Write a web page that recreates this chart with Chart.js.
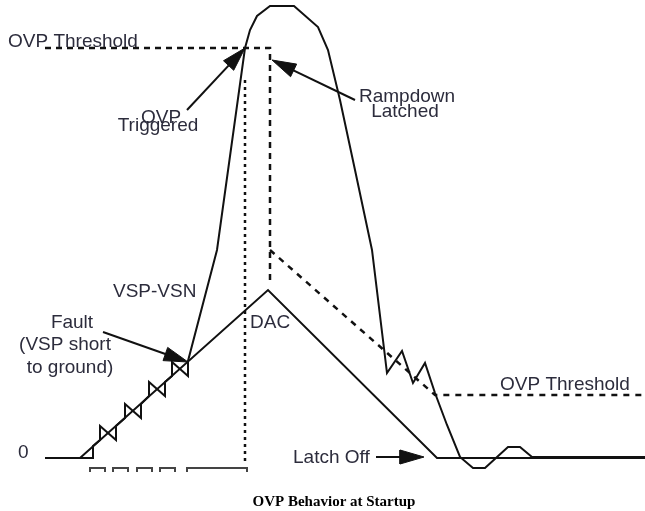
<!DOCTYPE html>
<html>
<head>
<meta charset="utf-8">
<script src="https://cdn.jsdelivr.net/npm/chart.js"></script>
<style>
  html, body { margin: 0; padding: 0; background: #fff; }
</style>
</head>
<body>
<canvas id="chart" width="645" height="511"></canvas>
<script>
// time (x) and voltage (y), arbitrary units
const dacT = [45, 80, 268, 437, 645];
const dacV = [0, 0, 168, 0, 0];

const vspT = [45, 80, 93, 93, 100, 100, 116, 116, 125, 125, 141, 141, 149, 149, 165, 165, 172, 172, 188, 188,
  217, 245, 250, 257, 270, 294, 318, 328, 340, 355, 372, 387, 402, 413, 425, 435, 447, 460, 473, 485, 508, 520, 532, 645];
const vspV = [0, 0, 0, 12, 18, 32, 18, 32, 40, 54, 40, 54, 62, 76, 62, 76, 82, 96, 82, 97,
  208, 410, 428, 442, 452, 452, 431, 408, 358, 288, 208, 85, 107, 75, 95, 65, 33, 1, -10, -10, 11, 11, 1, 1];

const ovpT = [45, 270, 270];
const ovpV = [410, 410, 173];
const rampT = [270, 435, 645];
const rampV = [208, 63, 63];
const markT = [245, 245];
const markV = [378, -7];

const pulseStart = [90, 113, 137, 160, 187];
const pulseEnd = [105, 128, 152, 175, 247];
const pulseLow = -14;
const pulseHigh = -10;

// arrows: tail -> tip
const arrowTailT = [187, 355, 103, 376];
const arrowTailV = [348, 358, 126, 1];
const arrowTipT = [245, 272, 188, 424];
const arrowTipV = [410, 398, 96, 1];

const labelText = ['OVP Threshold', 'OVP', 'Triggered', 'Rampdown', 'Latched', 'VSP-VSN', 'Fault',
  '(VSP short', 'to ground)', 'DAC', '0', 'Latch Off', 'OVP Threshold'];
const labelT = [8, 161, 158, 407, 405, 113, 72, 65, 70, 250, 18, 293, 500];
const labelV = [411, 335, 327, 356, 341, 161, 130, 108, 85, 130, 0, -5, 68];
const labelAlign = ['left', 'center', 'center', 'center', 'center', 'left', 'center',
  'center', 'center', 'left', 'left', 'left', 'left'];

const title = 'OVP Behavior at Startup';

function pts(ts, vs) {
  return ts.map((t, i) => ({x: t, y: vs[i]}));
}

function pulses() {
  const out = [];
  pulseStart.forEach((s, i) => {
    out.push({x: s, y: pulseLow}, {x: s, y: pulseHigh}, {x: pulseEnd[i], y: pulseHigh}, {x: pulseEnd[i], y: pulseLow});
    out.push({x: pulseEnd[i], y: null});
  });
  return out;
}

function arrowHead(i) {
  const dx = arrowTipT[i] - arrowTailT[i];
  const dy = arrowTipV[i] - arrowTailV[i];
  const len = Math.hypot(dx, dy);
  const ux = dx / len, uy = dy / len;
  const bx = arrowTipT[i] - ux * 24, by = arrowTipV[i] - uy * 24;
  const w = 7;
  return [
    {x: arrowTipT[i], y: arrowTipV[i]},
    {x: bx - uy * w, y: by + ux * w},
    {x: bx + uy * w, y: by - ux * w},
    {x: arrowTipT[i], y: arrowTipV[i]}
  ];
}

function line(data, opts) {
  return Object.assign({
    data: data,
    borderColor: '#111',
    borderWidth: 2,
    pointRadius: 0,
    tension: 0,
    fill: false,
    spanGaps: false
  }, opts || {});
}

const datasets = [
  line(pts(dacT, dacV)),
  line(pts(vspT, vspV)),
  line(pts(ovpT, ovpV), {borderDash: [6, 5], borderWidth: 2.5}),
  line(pts(rampT, rampV), {borderDash: [6, 6], borderWidth: 2.5}),
  line(pts(markT, markV), {borderDash: [3, 4], borderWidth: 2.5}),
  line(pulses(), {borderColor: '#444', borderWidth: 2})
];
arrowTailT.forEach((t, i) => {
  const head = arrowHead(i);
  const dx = arrowTipT[i] - t, dy = arrowTipV[i] - arrowTailV[i];
  const len = Math.hypot(dx, dy);
  datasets.push(line([{x: t, y: arrowTailV[i]},
    {x: arrowTipT[i] - dx / len * 18, y: arrowTipV[i] - dy / len * 18}]));
  datasets.push(line(head, {fill: 'shape', backgroundColor: '#111', borderWidth: 1}));
});

const textPlugin = {
  id: 'texts',
  afterDraw(chart) {
    const ctx = chart.ctx;
    const xs = chart.scales.x, ys = chart.scales.y;
    ctx.save();
    ctx.fillStyle = '#2c2c3c';
    ctx.font = '19px "Liberation Sans", Arial, sans-serif';
    ctx.textBaseline = 'alphabetic';
    labelText.forEach((s, i) => {
      ctx.textAlign = labelAlign[i];
      ctx.fillText(s, xs.getPixelForValue(labelT[i]), ys.getPixelForValue(labelV[i]));
    });
    ctx.fillStyle = '#000';
    ctx.font = 'bold 15px "Liberation Serif", "Times New Roman", serif';
    ctx.textAlign = 'center';
    ctx.fillText(title, xs.getPixelForValue(334), ys.getPixelForValue(-48));
    ctx.restore();
  }
};

new Chart(document.getElementById('chart').getContext('2d'), {
  type: 'line',
  data: {datasets: datasets},
  options: {
    responsive: false,
    animation: false,
    layout: {padding: 0},
    plugins: {legend: {display: false}, tooltip: {enabled: false}},
    scales: {
      x: {type: 'linear', min: 0, max: 645, display: false},
      y: {type: 'linear', min: -53, max: 458, display: false}
    }
  },
  plugins: [textPlugin]
});
</script>
</body>
</html>
